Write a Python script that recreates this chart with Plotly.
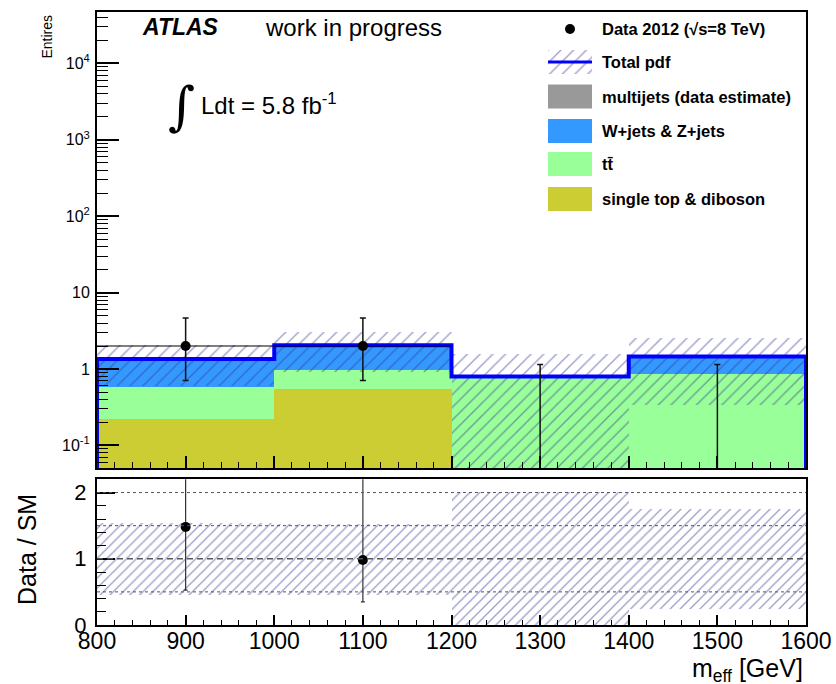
import plotly.graph_objects as go

# ---------------- data ----------------
edges = [800, 1000, 1200, 1400, 1600]
centers = [900, 1100, 1300, 1500]
data = [2, 2, 0, 0]
data_err_up = [2.64, 2.64, 1.15, 1.15]
data_err_dn = [1.29, 1.29, 0.0, 0.0]
single_top_diboson = [0.225, 0.55, 0.0, 0.0]
ttbar = [0.355, 0.43, 0.80, 0.86]
wz_jets = [0.77, 1.06, 0.0, 0.60]
multijets = [0.0, 0.0, 0.0, 0.0]
band_hi = [2.08, 3.10, 1.60, 2.56]
band_lo = [0.60, 0.93, 0.0, 0.34]

y_tickvals = [0.1, 1, 10, 100, 1000, 10000]
y_ticktext = ["10<sup>-1</sup>", "1", "10", "10<sup>2</sup>", "10<sup>3</sup>", "10<sup>4</sup>"]
x_tickvals = [800, 900, 1000, 1100, 1200, 1300, 1400, 1500, 1600]
ratio_tickvals = [0, 1, 2]
ratio_dotted = [0.5, 1.5, 2.0]
ratio_dashed = [1.0]

legend_labels = ["Data 2012 (√s=8 TeV)", "Total pdf", "multijets (data estimate)",
                 "W+jets & Z+jets", "tt\u0304", "single top & diboson"]

# ---------------- styles ----------------
FONT = "Liberation Sans, Arial, Helvetica, sans-serif"
C_MULTI = "#999999"
C_WZ = "#3399ff"
C_TT = "#99ff99"
C_ST = "#cccc33"
C_TOTAL = "#0000ff"
HATCH = "rgb(55,55,150)"
FLOOR = 1e-3

widths = [edges[i + 1] - edges[i] for i in range(len(centers))]
cum_st = list(single_top_diboson)
cum_tt = [a + b for a, b in zip(cum_st, ttbar)]
cum_wz = [a + b for a, b in zip(cum_tt, wz_jets)]
total = [a + b for a, b in zip(cum_wz, multijets)]

fig = go.Figure()

# stacked components drawn as overlaid cumulative bars (largest first)
for cum, col in [(total, C_MULTI), (cum_wz, C_WZ), (cum_tt, C_TT), (cum_st, C_ST)]:
    fig.add_trace(go.Bar(x=centers, y=cum, width=widths, marker=dict(color=col, line_width=0),
                         xaxis="x", yaxis="y", showlegend=False, hoverinfo="skip"))

pattern = dict(shape="/", fgcolor=HATCH, bgcolor="rgba(0,0,0,0)", size=9, solidity=0.15, fillmode="overlay")

# uncertainty band (main)
lo_main = [max(v, FLOOR) for v in band_lo]
fig.add_trace(go.Bar(x=centers, y=[h - l for h, l in zip(band_hi, lo_main)], base=lo_main, width=widths,
                     marker=dict(color="rgba(0,0,0,0)", line_width=0, pattern=pattern),
                     xaxis="x", yaxis="y", showlegend=False, hoverinfo="skip"))

# total pdf step line
xs = [edges[0]] + edges[:-1] + [edges[-1], edges[-1]]
ys = [FLOOR] + total + [total[-1], FLOOR]
fig.add_trace(go.Scatter(x=xs, y=ys, mode="lines", line=dict(color=C_TOTAL, width=4, shape="hv"),
                         xaxis="x", yaxis="y", showlegend=False, hoverinfo="skip"))

# data histogram outline
dx, dy = [], []
for i, d in enumerate(data):
    if d > 0:
        dx += [edges[i], edges[i + 1], None]
        dy += [d, d, None]
fig.add_trace(go.Scatter(x=dx, y=dy, mode="lines", line=dict(color="black", width=1.2),
                         xaxis="x", yaxis="y", showlegend=False, hoverinfo="skip"))

# data error bars (zero-count bins start below the axis)
y_pts = [d if d > 0 else FLOOR for d in data]
fig.add_trace(go.Scatter(
    x=centers, y=y_pts, mode="markers", marker=dict(color="rgba(0,0,0,0)", size=1),
    error_y=dict(type="data", symmetric=False,
                 array=[d + u - y for d, u, y in zip(data, data_err_up, y_pts)],
                 arrayminus=[(y - (d - e)) if d > 0 else 0 for d, e, y in zip(data, data_err_dn, y_pts)],
                 color="#111111", thickness=1.5, width=3),
    xaxis="x", yaxis="y", showlegend=False, hoverinfo="skip"))
# data points
fig.add_trace(go.Scatter(
    x=[c for c, d in zip(centers, data) if d > 0], y=[d for d in data if d > 0], mode="markers",
    marker=dict(color="black", size=10, line=dict(width=0)),
    xaxis="x", yaxis="y", showlegend=False, hoverinfo="skip"))

# ---------------- ratio panel ----------------
r_lo = [l / t for l, t in zip(band_lo, total)]
r_hi = [h / t for h, t in zip(band_hi, total)]
pattern2 = dict(pattern, size=7, solidity=0.18)
fig.add_trace(go.Bar(x=centers, y=[h - l for h, l in zip(r_hi, r_lo)], base=r_lo, width=widths,
                     marker=dict(color="rgba(0,0,0,0)", line_width=0, pattern=pattern2),
                     xaxis="x2", yaxis="y2", showlegend=False, hoverinfo="skip"))

rx, ry, rup, rdn = [], [], [], []
for c, d, u, e, t in zip(centers, data, data_err_up, data_err_dn, total):
    if d > 0:
        rx.append(c); ry.append(d / t); rup.append(u / t); rdn.append(e / t)
fig.add_trace(go.Scatter(x=rx, y=ry, mode="markers", marker=dict(color="black", size=10, line=dict(width=0)),
                         error_y=dict(type="data", symmetric=False, array=rup, arrayminus=rdn,
                                      color="#333333", thickness=1.2, width=2),
                         xaxis="x2", yaxis="y2", showlegend=False, hoverinfo="skip"))

for yv in ratio_dotted:
    fig.add_shape(type="line", xref="x2", yref="y2", x0=edges[0], x1=edges[-1], y0=yv, y1=yv,
                  line=dict(color="#555555", width=1, dash="dot"))
for yv in ratio_dashed:
    fig.add_shape(type="line", xref="x2", yref="y2", x0=edges[0], x1=edges[-1], y0=yv, y1=yv,
                  line=dict(color="#555555", width=1.3, dash="6px,4px"))

# ---------------- custom legend (pixel overlay axis) ----------------
LX0, LX1 = 548, 592
rows = [29, 62, 96.5, 131, 164, 199]
fig.add_trace(go.Scatter(x=[(LX0 + LX1) / 2], y=[rows[0]], mode="markers",
                         marker=dict(color="black", size=10, line=dict(width=0)), xaxis="x3", yaxis="y3",
                         showlegend=False, hoverinfo="skip"))
fig.add_trace(go.Scatter(x=[LX0, LX1, LX1, LX0, LX0], y=[rows[1] - 12, rows[1] - 12, rows[1] + 12, rows[1] + 12, rows[1] - 12],
                         mode="none", fill="toself", fillcolor="rgba(0,0,0,0)",
                         fillpattern=dict(pattern),
                         xaxis="x3", yaxis="y3", showlegend=False, hoverinfo="skip"))
fig.add_trace(go.Scatter(x=[LX0, LX1], y=[rows[1], rows[1]], mode="lines", line=dict(color=C_TOTAL, width=3),
                         xaxis="x3", yaxis="y3", showlegend=False, hoverinfo="skip"))
for r, col in zip(rows[2:], [C_MULTI, C_WZ, C_TT, C_ST]):
    fig.add_trace(go.Scatter(x=[LX0, LX1, LX1, LX0, LX0], y=[r - 12, r - 12, r + 12, r + 12, r - 12],
                             mode="none", fill="toself", fillcolor=col,
                             xaxis="x3", yaxis="y3", showlegend=False, hoverinfo="skip"))

annotations = []
for r, lab in zip(rows, legend_labels):
    annotations.append(dict(x=600, y=r, xref="x3", yref="y3", text="<b>%s</b>" % lab, showarrow=False,
                            xanchor="left", yanchor="middle", font=dict(family=FONT, size=16.5, color="black")))

annotations += [
    dict(x=140, y=27, xref="x3", yref="y3", text="<b><i>ATLAS</i></b>", showarrow=False,
         xanchor="left", yanchor="middle", font=dict(family=FONT, size=23, color="black")),
    dict(x=263, y=27, xref="x3", yref="y3", text="work in progress", showarrow=False,
         xanchor="left", yanchor="middle", font=dict(family=FONT, size=24, color="black")),
    dict(x=181, y=106, xref="x3", yref="y3", text="<i>∫</i>", showarrow=False,
         xanchor="center", yanchor="middle", font=dict(family="DejaVu Serif", size=52, color="black")),
    dict(x=199, y=104, xref="x3", yref="y3", text="Ldt = 5.8 fb<sup>-1</sup>", showarrow=False,
         xanchor="left", yanchor="middle", font=dict(family=FONT, size=24, color="black")),
    dict(x=46.5, y=37, xref="x3", yref="y3", text="Entires", showarrow=False, textangle=-90,
         xanchor="center", yanchor="middle", font=dict(family=FONT, size=14, color="black")),
    dict(x=27, y=550, xref="x3", yref="y3", text="Data / SM", showarrow=False, textangle=-90,
         xanchor="center", yanchor="middle", font=dict(family=FONT, size=25, color="black")),
    dict(x=805, y=670, xref="x3", yref="y3", text="m<sub>eff</sub> [GeV]", showarrow=False,
         xanchor="right", yanchor="middle", font=dict(family=FONT, size=25, color="black")),
]

W, H = 836, 684
px0, px1 = 97 / W, 806 / W
main_dom = [(H - 468) / H, (H - 11.7) / H]
ratio_dom = [(H - 625) / H, (H - 479.3) / H]

minor_log = [m * 10 ** e for e in range(-2, 5) for m in range(2, 10)]

axis_common = dict(showline=True, linecolor="black", linewidth=2, mirror=True, showgrid=False,
                   zeroline=False, ticks="inside", tickcolor="black", tickwidth=1.5, automargin=False)

fig.update_layout(
    template="none",
    width=W, height=H, margin=dict(l=0, r=0, t=0, b=0, pad=0),
    paper_bgcolor="white", plot_bgcolor="rgba(0,0,0,0)",
    barmode="overlay", bargap=0, showlegend=False,
    font=dict(family=FONT, color="black"),
    xaxis=dict(axis_common, domain=[px0, px1], range=[edges[0], edges[-1]], anchor="y",
               tickvals=x_tickvals, ticklen=12, showticklabels=False,
               minor=dict(ticks="inside", dtick=20, tick0=800, ticklen=6, tickcolor="black", tickwidth=1.2)),
    yaxis=dict(axis_common, domain=main_dom, type="log", range=[-1.295, 4.675], anchor="x",
               tickvals=y_tickvals, ticktext=y_ticktext, ticklen=22,
               tickfont=dict(family=FONT, size=16, color="black"), ticklabelstandoff=2,
               minor=dict(ticks="inside", tickvals=minor_log, ticklen=11, tickcolor="black", tickwidth=1.2)),
    xaxis2=dict(axis_common, domain=[px0, px1], range=[edges[0], edges[-1]], anchor="y2",
                tickvals=x_tickvals, ticklen=10, ticklabelstandoff=-6,
                tickfont=dict(family=FONT, size=23, color="black"),
                minor=dict(ticks="inside", dtick=20, tick0=800, ticklen=5, tickcolor="black", tickwidth=1.2)),
    yaxis2=dict(axis_common, domain=ratio_dom, range=[0, 2.2], anchor="x2",
                tickvals=ratio_tickvals, ticklen=18, ticklabelstandoff=4,
                tickfont=dict(family=FONT, size=22, color="black"),
                minor=dict(ticks="inside", dtick=0.2, tick0=0, ticklen=9, tickcolor="black", tickwidth=1.2)),
    xaxis3=dict(domain=[0, 1], range=[0, W], visible=False, anchor="y3", fixedrange=True, automargin=False),
    yaxis3=dict(domain=[0, 1], range=[H, 0], visible=False, anchor="x3", fixedrange=True, automargin=False),
    annotations=annotations,
)

fig.write_html("out.html")
